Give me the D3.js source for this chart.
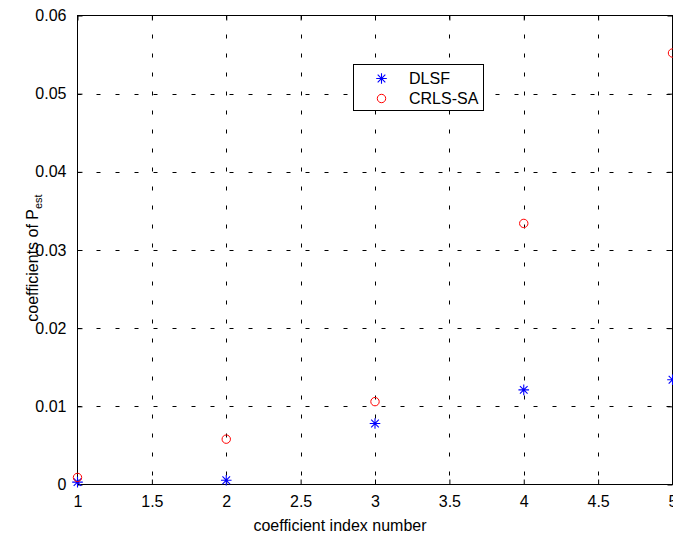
<!DOCTYPE html>
<html>
<head>
<meta charset="utf-8">
<script src="https://cdn.jsdelivr.net/npm/d3@7/dist/d3.min.js"></script>
<style>
  body { margin: 0; background: #fff; }
  svg text { font-family: "Liberation Sans", Arial, sans-serif; }
</style>
</head>
<body>
<svg id="chart" width="673" height="539"></svg>
<script>
// values
var coefIndex = [1, 2, 3, 4, 5];
var dlsfValues = [0.0003, 0.00055, 0.0078, 0.0121, 0.0134];
var crlsValues = [0.0009, 0.0058, 0.0106, 0.0334, 0.0552];
var xTicks = [1, 1.5, 2, 2.5, 3, 3.5, 4, 4.5, 5];
var yTicks = [0, 0.01, 0.02, 0.03, 0.04, 0.05, 0.06];
var seriesNames = ["DLSF", "CRLS-SA"];

var svg = d3.select("#chart");

var plotL = 77.5, plotR = 672.5, plotT = 15.5, plotB = 484.5;

var x = d3.scaleLinear().domain([1, 5]).range([plotL, plotR]);
var y = d3.scaleLinear().domain([0, 0.06]).range([plotB, plotT]);

// grid (dotted, MATLAB style)
var grid = svg.append("g").attr("class", "grid");
grid.selectAll("line.vg")
  .data(xTicks.slice(1, -1))
  .enter().append("line")
  .attr("class", "vg")
  .attr("x1", d => Math.round(x(d)) + 0.5).attr("x2", d => Math.round(x(d)) + 0.5)
  .attr("y1", plotT).attr("y2", plotB)
  .attr("stroke", "#000").attr("stroke-width", 1)
  .attr("stroke-dasharray", "4,15");

grid.selectAll("line.hg")
  .data(yTicks.slice(1, -1))
  .enter().append("line")
  .attr("class", "hg")
  .attr("x1", plotL).attr("x2", plotR)
  .attr("y1", d => Math.round(y(d)) + 0.5).attr("y2", d => Math.round(y(d)) + 0.5)
  .attr("stroke", "#000").attr("stroke-width", 1)
  .attr("stroke-dasharray", "4,15");

// axes, ticks pointing inward on all four sides
function styleAxis(g){
  g.select(".domain").remove();
  g.selectAll(".tick line").attr("stroke", "#000");
  g.selectAll("text").attr("fill", "#000").attr("font-size", 16);
}

svg.append("g")
  .attr("transform", "translate(0," + plotB + ")")
  .call(d3.axisBottom(x).tickValues(xTicks).tickSize(-5).tickPadding(11).tickFormat(d3.format("")))
  .call(styleAxis);

svg.append("g")
  .attr("transform", "translate(0," + plotT + ")")
  .call(d3.axisTop(x).tickValues(xTicks).tickSize(-5).tickFormat(""))
  .call(styleAxis);

svg.append("g")
  .attr("transform", "translate(" + plotL + ",0)")
  .call(d3.axisLeft(y).tickValues(yTicks).tickSize(-5).tickPadding(11).tickFormat(d3.format("")))
  .call(styleAxis);

svg.append("g")
  .attr("transform", "translate(" + plotR + ",0)")
  .call(d3.axisRight(y).tickValues(yTicks).tickSize(-5).tickFormat(""))
  .call(styleAxis);

// box
svg.append("rect")
  .attr("x", plotL).attr("y", plotT)
  .attr("width", plotR - plotL).attr("height", plotB - plotT)
  .attr("fill", "none").attr("stroke", "#000").attr("stroke-width", 1);

// axis labels
svg.append("text")
  .attr("x", (plotL + plotR) / 2 - 35).attr("y", 531)
  .attr("text-anchor", "middle").attr("font-size", 16)
  .text("coefficient index number");

var yl = svg.append("text")
  .attr("transform", "translate(38," + ((plotT + plotB) / 2 + 8) + ") rotate(-90)")
  .attr("text-anchor", "middle").attr("font-size", 16);
yl.append("tspan").text("coefficients of P");
yl.append("tspan").attr("dy", 4).attr("font-size", 11).text("est");

// markers
function star(g, s, color){
  var r = s;
  var d = r * 0.72;
  g.append("path")
    .attr("d", "M" + (-r) + ",0H" + r + "M0," + (-r) + "V" + r +
      "M" + (-d) + "," + (-d) + "L" + d + "," + d +
      "M" + (-d) + "," + d + "L" + d + "," + (-d))
    .attr("stroke", color).attr("stroke-width", 1.1).attr("fill", "none");
}

var pts = svg.append("g").attr("class", "points");

coefIndex.forEach(function(k, i){
  var g = pts.append("g")
    .attr("transform", "translate(" + x(k) + "," + y(dlsfValues[i]) + ")");
  star(g, 5.3, "#0000ff");
});

pts.selectAll("circle.crls")
  .data(coefIndex)
  .enter().append("circle")
  .attr("class", "crls")
  .attr("cx", d => x(d))
  .attr("cy", (d, i) => y(crlsValues[i]))
  .attr("r", 4.2)
  .attr("fill", "none").attr("stroke", "#ff0000").attr("stroke-width", 1);

// legend
var lg = svg.append("g").attr("class", "legend");
lg.append("rect")
  .attr("x", 353.5).attr("y", 64.5).attr("width", 130).attr("height", 46)
  .attr("fill", "#fff").attr("stroke", "#000").attr("stroke-width", 1);

star(lg.append("g").attr("transform", "translate(381.5,78.5)"), 5.3, "#0000ff");
lg.append("circle")
  .attr("cx", 381.5).attr("cy", 98.5).attr("r", 4.2)
  .attr("fill", "none").attr("stroke", "#ff0000").attr("stroke-width", 1);

lg.selectAll("text")
  .data(seriesNames)
  .enter().append("text")
  .attr("x", 409)
  .attr("y", (d, i) => 84 + i * 20)
  .attr("font-size", 16)
  .text(d => d);
</script>
</body>
</html>
